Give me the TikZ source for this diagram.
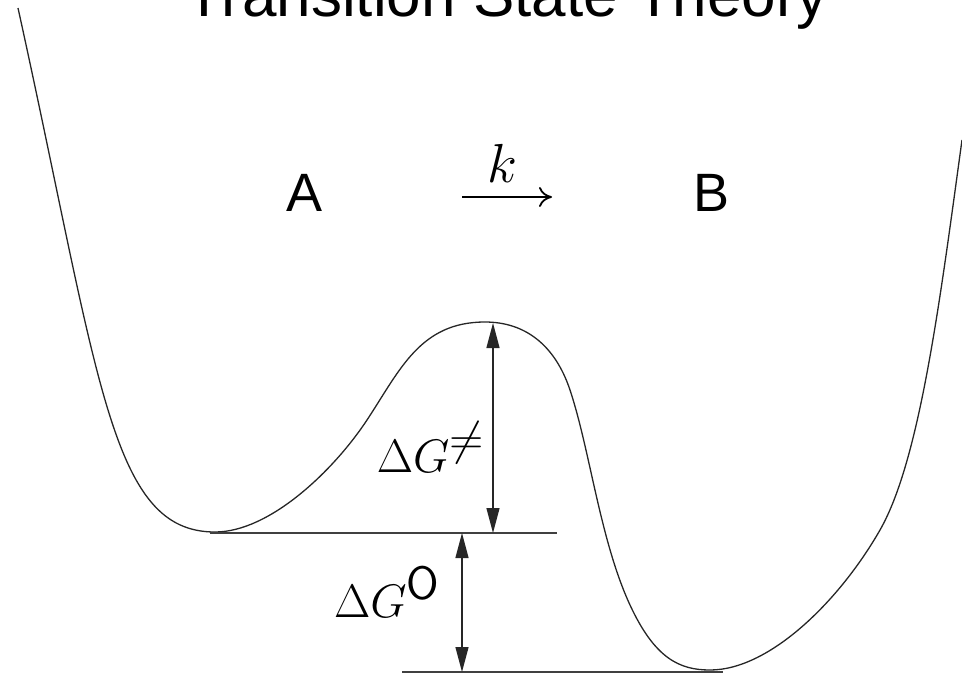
\documentclass[tikz,border=0pt]{standalone}
\usepackage{fix-cm}
\usepackage{fontspec}
\usetikzlibrary{arrows.meta}
\newfontfamily\headfont{Liberation Sans}
\begin{document}
\begin{tikzpicture}[x=1pt,y=-1pt,
  curve/.style={line width=1.3pt, black!85},
  level/.style={line width=1.3pt, black!75},
  gap/.style={line width=1.3pt, black!85, {Triangle[length=25pt,width=13pt]}-{Triangle[length=25pt,width=13pt]}}]
\useasboundingbox (0,0) rectangle (962,673);
\node[anchor=base, inner sep=0pt, font=\headfont\fontsize{62}{70}\selectfont] (title) at (507,16) {Transition State Theory};
\node[anchor=base, inner sep=0pt, font=\headfont\fontsize{54}{60}\selectfont] (a) at (305,211) {A};
\node[anchor=base, inner sep=0pt, font=\headfont\fontsize{54}{60}\selectfont] (b) at (712,211) {B};
\node[anchor=base, inner sep=0pt, font=\fontsize{55}{60}\selectfont] (k) at (502,182) {$k$};
\coordinate (kl) at (462,197);
\coordinate (kr) at (552,197);
\draw[line width=1.8pt, -{Computer Modern Rightarrow[length=13pt,width=20pt]}] (kl) -- (kr);

\draw[curve] (18,8) .. controls (100,380) and (110,532) .. (215,532)
  .. controls (270,532) and (334,470) .. (367,420)
  .. controls (400,370) and (420,322) .. (485,322)
  .. controls (525,322) and (555,345) .. (570,390)
  .. controls (590,450) and (600,540) .. (630,605)
  .. controls (655,659) and (680,670) .. (710,670)
  .. controls (770,670) and (840,600) .. (880,530)
  .. controls (920,460) and (940,300) .. (962,140);

\coordinate (minA) at (210,533);
\coordinate (endA) at (557,533);
\coordinate (minB) at (402,672);
\coordinate (endB) at (723,672);
\coordinate (peak) at (493,323);
\coordinate (gA) at (462,533);
\coordinate (gB) at (462,672);
\draw[level] (minA) -- (endA);
\draw[level] (minB) -- (endB);
\draw[gap] (peak) -- (peak |- minA);
\draw[gap] (gA) -- (gB);

\node[anchor=base east, inner sep=0pt, font=\fontsize{47}{52}\selectfont] (dgts) at (484,472) {$\Delta G^{\textstyle\neq}$};
\node[anchor=base east, inner sep=0pt, font=\fontsize{47}{52}\selectfont] (dgo) at (440,617) {$\Delta G^{\textsf{O}}$};
\end{tikzpicture}
\end{document}
